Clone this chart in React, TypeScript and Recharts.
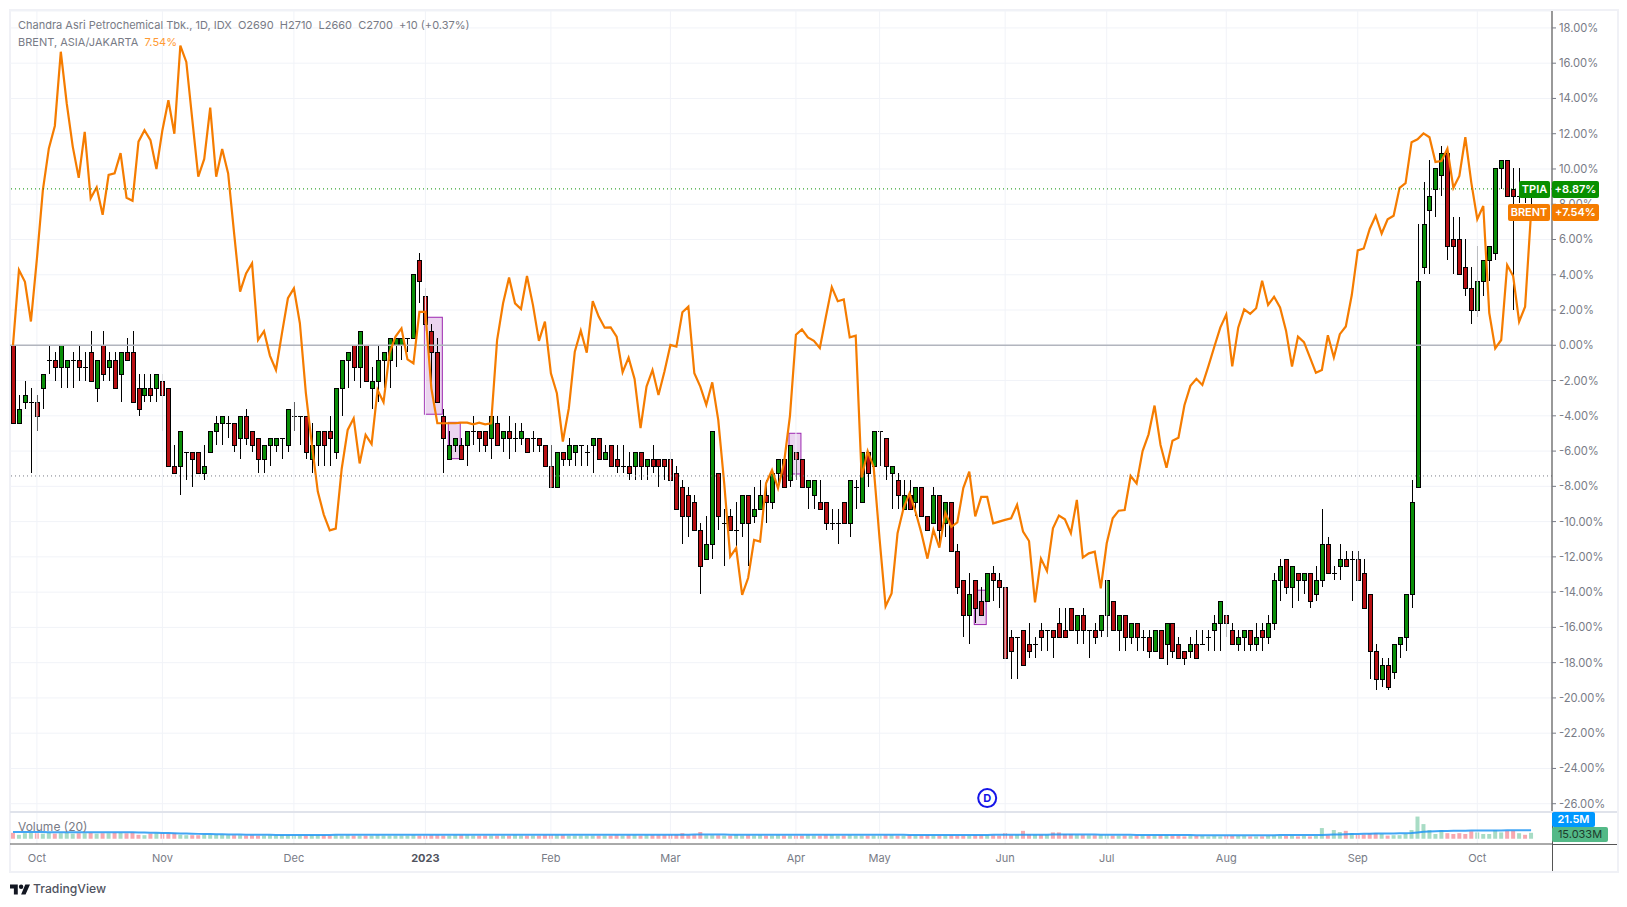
import { Bar, CartesianGrid, Cell, ComposedChart, Line, ReferenceArea, ReferenceDot, ReferenceLine, XAxis, YAxis } from 'recharts';

// TPIA daily prices. The percent scale is relative to the first open.
const basePrice = 2480;

const opens = [
  2480, 2370, 2400, 2400, 2400, 2420, 2460, 2460, 2450, 2450,
  2460, 2460, 2450, 2470, 2420, 2480, 2450, 2460, 2440, 2470,
  2470, 2420, 2410, 2420, 2420, 2430, 2420, 2310, 2310, 2330,
  2330, 2330, 2300, 2330, 2360, 2370, 2370, 2370, 2350, 2380,
  2360, 2350, 2320, 2340, 2340, 2350, 2340, 2380, 2380, 2380,
  2320, 2340, 2360, 2360, 2330, 2420, 2460, 2480, 2450, 2480,
  2420, 2430, 2460, 2460, 2480, 2480, 2490, 2490, 2600, 2550,
  2500, 2470, 2380, 2320, 2340, 2340, 2340, 2360, 2360, 2360,
  2350, 2370, 2350, 2360, 2350, 2350, 2350, 2350, 2350, 2340,
  2310, 2280, 2330, 2320, 2330, 2340, 2330, 2340, 2350, 2320,
  2340, 2320, 2310, 2310, 2310, 2330, 2310, 2320, 2320, 2320,
  2320, 2300, 2280, 2270, 2260, 2220, 2180, 2200, 2300, 2230,
  2240, 2220, 2230, 2270, 2240, 2250, 2270, 2260, 2300, 2320,
  2290, 2330, 2320, 2280, 2270, 2260, 2260, 2230, 2230, 2260,
  2230, 2280, 2260, 2330, 2310, 2360, 2350, 2300, 2290, 2250,
  2270, 2260, 2280, 2240, 2230, 2270, 2230, 2260, 2190, 2150,
  2100, 2150, 2120, 2120, 2160, 2150, 2140, 2070, 2070, 2080,
  2060, 2060, 2080, 2080, 2080, 2090, 2080, 2110, 2080, 2100,
  2080, 2080, 2080, 2100, 2120, 2080, 2100, 2070, 2090, 2070,
  2070, 2050, 2080, 2060, 2090, 2060, 2050, 2050, 2060, 2060,
  2070, 2080, 2090, 2100, 2080, 2060, 2070, 2080, 2060, 2080,
  2070, 2090, 2150, 2180, 2140, 2160, 2150, 2160, 2130, 2150,
  2200, 2160, 2170, 2180, 2180, 2180, 2160, 2130, 2050, 2010,
  2030, 2020, 2060, 2070, 2130, 2280, 2590, 2670, 2700, 2720,
  2750, 2630, 2630, 2590, 2560, 2530, 2570, 2600, 2610, 2730,
  2740, 2700, 2690, 2700, 2690,
];

const highs = [
  2490, 2410, 2430, 2420, 2410, 2440, 2480, 2470, 2480, 2460,
  2470, 2480, 2470, 2500, 2460, 2500, 2470, 2470, 2470, 2490,
  2500, 2440, 2440, 2440, 2440, 2440, 2420, 2340, 2360, 2330,
  2330, 2330, 2340, 2360, 2380, 2380, 2380, 2370, 2380, 2390,
  2360, 2350, 2340, 2350, 2350, 2350, 2390, 2400, 2380, 2380,
  2370, 2360, 2360, 2380, 2420, 2460, 2470, 2480, 2500, 2480,
  2450, 2480, 2470, 2490, 2490, 2490, 2490, 2580, 2610, 2560,
  2510, 2490, 2390, 2360, 2350, 2350, 2360, 2380, 2360, 2360,
  2380, 2380, 2360, 2380, 2370, 2370, 2350, 2360, 2350, 2340,
  2340, 2330, 2330, 2350, 2340, 2340, 2340, 2350, 2350, 2340,
  2340, 2340, 2340, 2330, 2330, 2330, 2320, 2340, 2320, 2320,
  2330, 2310, 2290, 2280, 2270, 2230, 2240, 2360, 2300, 2250,
  2250, 2260, 2270, 2270, 2280, 2290, 2290, 2300, 2320, 2320,
  2340, 2330, 2320, 2290, 2290, 2290, 2260, 2250, 2250, 2260,
  2290, 2290, 2330, 2330, 2360, 2360, 2350, 2310, 2300, 2290,
  2290, 2280, 2280, 2240, 2280, 2270, 2260, 2260, 2200, 2150,
  2160, 2150, 2140, 2160, 2170, 2160, 2140, 2080, 2070, 2080,
  2090, 2070, 2090, 2080, 2080, 2110, 2110, 2110, 2100, 2110,
  2080, 2090, 2100, 2150, 2120, 2100, 2100, 2090, 2090, 2080,
  2080, 2080, 2080, 2090, 2090, 2070, 2050, 2070, 2080, 2080,
  2080, 2100, 2120, 2100, 2090, 2080, 2080, 2080, 2090, 2090,
  2100, 2160, 2180, 2180, 2170, 2160, 2160, 2160, 2170, 2250,
  2210, 2170, 2200, 2190, 2190, 2190, 2180, 2130, 2060, 2040,
  2040, 2060, 2070, 2130, 2290, 2650, 2710, 2740, 2730, 2760,
  2750, 2660, 2660, 2630, 2590, 2620, 2600, 2620, 2730, 2740,
  2740, 2730, 2730, 2710, 2710,
];

const lows = [
  2370, 2370, 2390, 2300, 2360, 2390, 2440, 2430, 2420, 2420,
  2420, 2430, 2430, 2430, 2400, 2430, 2430, 2420, 2400, 2460,
  2400, 2380, 2400, 2400, 2400, 2360, 2310, 2300, 2270, 2290,
  2280, 2300, 2290, 2330, 2340, 2340, 2350, 2330, 2320, 2340,
  2330, 2300, 2300, 2310, 2330, 2320, 2330, 2360, 2340, 2320,
  2300, 2310, 2310, 2310, 2320, 2380, 2420, 2430, 2420, 2430,
  2390, 2400, 2420, 2420, 2450, 2460, 2470, 2490, 2540, 2500,
  2420, 2400, 2300, 2320, 2330, 2320, 2310, 2340, 2330, 2330,
  2320, 2340, 2330, 2320, 2330, 2340, 2330, 2330, 2330, 2310,
  2280, 2280, 2310, 2310, 2310, 2310, 2310, 2300, 2320, 2320,
  2310, 2300, 2300, 2290, 2290, 2290, 2290, 2300, 2280, 2290,
  2280, 2250, 2200, 2210, 2220, 2130, 2180, 2180, 2220, 2170,
  2220, 2190, 2210, 2170, 2230, 2250, 2230, 2250, 2280, 2280,
  2280, 2290, 2280, 2250, 2250, 2250, 2220, 2220, 2200, 2230,
  2210, 2250, 2260, 2280, 2310, 2310, 2290, 2250, 2250, 2250,
  2250, 2240, 2240, 2220, 2230, 2200, 2210, 2190, 2130, 2070,
  2060, 2090, 2100, 2120, 2120, 2110, 2040, 2010, 2010, 2030,
  2040, 2040, 2050, 2050, 2040, 2070, 2070, 2080, 2060, 2060,
  2040, 2060, 2070, 2070, 2080, 2050, 2050, 2060, 2050, 2050,
  2040, 2050, 2040, 2030, 2040, 2040, 2030, 2040, 2040, 2060,
  2050, 2050, 2050, 2070, 2060, 2050, 2050, 2050, 2050, 2050,
  2060, 2080, 2120, 2130, 2110, 2120, 2130, 2110, 2120, 2140,
  2160, 2150, 2150, 2170, 2120, 2150, 2110, 2010, 1995, 2000,
  1995, 2010, 2040, 2050, 2110, 2280, 2580, 2580, 2660, 2690,
  2600, 2580, 2580, 2550, 2510, 2520, 2550, 2570, 2600, 2700,
  2690, 2530, 2680, 2680, 2660,
];

const closes = [
  2370, 2390, 2410, 2400, 2380, 2440, 2460, 2450, 2480, 2460,
  2460, 2450, 2450, 2430, 2460, 2440, 2460, 2420, 2470, 2460,
  2400, 2390, 2420, 2410, 2440, 2410, 2310, 2300, 2360, 2330,
  2320, 2300, 2310, 2360, 2370, 2380, 2370, 2340, 2380, 2350,
  2340, 2320, 2340, 2350, 2350, 2350, 2390, 2380, 2380, 2330,
  2340, 2360, 2340, 2350, 2420, 2460, 2470, 2450, 2500, 2430,
  2430, 2460, 2470, 2490, 2490, 2490, 2490, 2580, 2570, 2510,
  2470, 2400, 2350, 2340, 2350, 2320, 2360, 2360, 2350, 2340,
  2380, 2340, 2360, 2350, 2350, 2360, 2330, 2350, 2340, 2310,
  2280, 2330, 2320, 2340, 2340, 2340, 2330, 2350, 2320, 2330,
  2310, 2310, 2310, 2300, 2330, 2310, 2320, 2310, 2310, 2310,
  2290, 2250, 2240, 2240, 2220, 2170, 2200, 2360, 2240, 2230,
  2220, 2220, 2270, 2230, 2250, 2270, 2260, 2300, 2320, 2280,
  2340, 2320, 2280, 2290, 2290, 2250, 2230, 2230, 2230, 2230,
  2290, 2280, 2330, 2300, 2360, 2360, 2310, 2310, 2270, 2270,
  2250, 2280, 2240, 2220, 2270, 2220, 2260, 2190, 2140, 2100,
  2130, 2110, 2100, 2160, 2150, 2140, 2040, 2050, 2070, 2030,
  2050, 2060, 2070, 2080, 2070, 2070, 2070, 2080, 2100, 2080,
  2080, 2070, 2100, 2150, 2080, 2100, 2070, 2090, 2070, 2070,
  2050, 2080, 2040, 2090, 2050, 2040, 2040, 2060, 2040, 2060,
  2070, 2090, 2120, 2090, 2060, 2070, 2080, 2060, 2070, 2070,
  2090, 2150, 2170, 2140, 2170, 2150, 2160, 2120, 2150, 2200,
  2160, 2160, 2180, 2170, 2180, 2150, 2110, 2050, 2010, 2030,
  2000, 2060, 2070, 2130, 2260, 2570, 2650, 2690, 2730, 2750,
  2620, 2620, 2580, 2560, 2530, 2570, 2600, 2620, 2730, 2740,
  2690, 2690, 2690, 2690, 2700,
];

// BRENT compare line, percent change
const brent = [
  0, 4.27, 3.6, 1.35, 4.9, 8.8, 11.17, 12.44, 16.65, 13.7,
  11.27, 9.5, 12.1, 8.34, 8.96, 7.4, 9.66, 9.75, 10.9, 8.37,
  8.2, 11.55, 12.2, 11.64, 10, 12.2, 13.9, 12, 17, 16.07,
  12.8, 9.56, 10.57, 13.48, 9.56, 11.13, 9.75, 6.35, 3.04, 4.08,
  4.65, 0.3, 0.8, -0.6, -1.4, 0.68, 2.67, 3.23, 1.25, -2.7,
  -5.6, -8.3, -9.6, -10.5, -10.4, -7, -4.8, -4.14, -6.7, -5.08,
  -5.6, -2.53, -3.23, -0.45, 0.5, 0.96, -0.8, -1.02, 1.9, 1.9,
  -2.44, -4.42, -4.42, -4.42, -4.42, -4.39, -4.39, -4.48, -4.39, -4.48,
  -4.42, 0.3, 2.38, 3.84, 2.38, 2.06, 3.93, 2.28, 0.25, 1.34,
  -1.59, -2.72, -5.46, -3.57, -0.36, 0.83, -0.42, 2.51, 1.63, 1,
  1.02, 0.49, -1.53, -0.7, -1.91, -4.7, -2.34, -1.4, -2.82, -1.49,
  0.02, -0.08, 1.87, 2.19, -1.59, -2.34, -3.38, -2.1, -4.23, -7.83,
  -11.98, -11.5, -14.15, -13.2, -11.04, -11.13, -7.83, -7.07, -8.1, -6.69,
  -4, 0.6, 0.9, 0.45, 0.25, -0.15, 1.6, 3.3, 2.5, 2.6,
  0.45, 0.55, -7.5, -6, -6.9, -11, -14.8, -14.07, -10.66, -9.24,
  -8.4, -9.43, -10.66, -12.1, -10.47, -11.47, -9.5, -10.3, -10.05, -8.1,
  -7.16, -9.7, -8.6, -8.6, -10.1, -10, -9.9, -9.81, -9.05, -10.57,
  -11.1, -14.58, -12.1, -12.8, -10.38, -9.66, -9.87, -10.66, -8.77, -12.04,
  -11.8, -11.7, -13.78, -11.23, -9.81, -9.38, -9.34, -7.41, -7.83, -6,
  -5.05, -3.42, -5.65, -6.94, -5.42, -5.24, -3.4, -2.3, -1.9, -2.25,
  -1.2, -0.08, 1, 1.74, -1.2, 1, 2.04, 1.78, 2.1, 3.66,
  2.29, 2.75, 2.15, 0.83, -1.2, 0.49, 0.18, -0.69, -1.56, -1.4,
  0.57, -0.69, 0.63, 1.07, 2.85, 5.38, 5.49, 6.6, 7.35, 6.34,
  7.15, 7.35, 8.93, 9.2, 11.52, 11.68, 12.02, 11.8, 10.4, 10.45,
  11.15, 8.93, 9.6, 11.8, 9.23, 7.15, 7.9, 1.84, -0.18, 0.3,
  4.55, 3.93, 1.34, 2.19, 7.54,
];

// Volume in millions, and its 20 day average
const volumes = [
  15, 10, 14, 15, 14, 13, 15, 13, 14, 15,
  13, 14, 14, 15, 13, 14, 14, 15, 15, 14,
  16, 10, 9, 13, 14, 14, 13, 14, 10, 9,
  9, 9, 10, 10, 10, 10, 9, 9, 9, 8,
  9, 8, 8, 9, 8, 9, 9, 8, 8, 8,
  9, 9, 9, 8, 9, 8, 9, 8, 8, 8,
  8, 9, 8, 8, 8, 8, 8, 9, 8, 8,
  9, 9, 8, 8, 9, 9, 9, 8, 8, 8,
  8, 8, 8, 8, 9, 8, 8, 8, 8, 9,
  9, 9, 9, 8, 8, 8, 8, 8, 8, 8,
  8, 9, 8, 9, 9, 8, 9, 9, 9, 9,
  10, 10, 14, 9, 10, 17, 9, 9, 9, 8,
  8, 10, 8, 9, 8, 9, 8, 8, 9, 8,
  8, 8, 8, 9, 8, 8, 9, 9, 8, 8,
  9, 8, 8, 8, 8, 8, 9, 9, 8, 8,
  9, 8, 8, 9, 8, 8, 8, 9, 8, 8,
  8, 9, 9, 9, 9, 8, 14, 9, 10, 20,
  11, 10, 10, 10, 16, 16, 12, 12, 10, 10,
  9, 9, 9, 9, 8, 8, 8, 8, 8, 8,
  8, 8, 9, 9, 8, 8, 6, 8, 7, 7,
  6, 7, 6, 7, 7, 7, 7, 6, 6, 6,
  7, 8, 7, 7, 8, 6, 7, 6, 7, 27,
  9, 22, 17, 20, 14, 10, 11, 14, 14, 12,
  8, 9, 9, 12, 22, 56, 37, 22, 12, 22,
  14, 12, 14, 12, 19, 16, 12, 12, 22, 16,
  20, 20, 14, 10, 15,
];

const volumeAvg = [
  17, 17, 16.9, 16.9, 16.8, 16.8, 16.7, 16.7, 16.7, 16.6,
  16.6, 16.6, 16.5, 16.5, 16.5, 16.4, 16.4, 16.4, 16.3, 16.3,
  16.2, 16, 15.7, 15.4, 15, 14.6, 14.2, 13.8, 13.4, 13,
  12.6, 12.3, 12, 11.7, 11.4, 11.1, 10.9, 10.7, 10.5, 10.3,
  10.1, 10, 9.9, 9.8, 9.7, 9.6, 9.6, 9.5, 9.5, 9.5,
  9.6, 9.6, 9.7, 9.7, 9.8, 9.8, 9.9, 9.9, 10, 10,
  10, 10, 10, 10, 10, 10, 10, 10, 10, 10,
  10, 10, 10, 10, 10, 10, 10, 10, 10, 10,
  10, 10, 10, 10, 10, 10, 10, 10, 10, 10,
  10, 10, 10, 10, 10, 10, 10, 10, 10, 10,
  10, 10, 10, 10, 10, 10, 10, 10, 10, 10,
  10.2, 10.2, 10.4, 10.4, 10.5, 10.6, 10.6, 10.6, 10.5, 10.5,
  10.4, 10.4, 10.3, 10.3, 10.2, 10.2, 10.1, 10.1, 10, 10,
  10, 10, 10, 10, 10, 9.9, 9.9, 9.9, 9.9, 9.9,
  9.8, 9.8, 9.8, 9.8, 9.8, 9.8, 9.8, 9.8, 9.8, 9.8,
  9.7, 9.7, 9.7, 9.7, 9.7, 9.7, 9.7, 9.7, 9.7, 9.7,
  9.7, 9.7, 9.7, 9.7, 9.8, 9.8, 9.9, 9.9, 10, 10.2,
  10.3, 10.3, 10.4, 10.4, 10.6, 10.8, 10.8, 10.8, 10.7, 10.7,
  10.6, 10.5, 10.4, 10.3, 10.1, 10, 9.9, 9.8, 9.7, 9.6,
  9.5, 9.4, 9.4, 9.3, 9.3, 9.2, 9.2, 9.2, 9.1, 9.1,
  9.1, 9.1, 9.1, 9.1, 9.1, 9.1, 9.1, 9.1, 9.1, 9.1,
  9.1, 9.1, 9.2, 9.2, 9.2, 9.2, 9.2, 9.2, 9.2, 9.5,
  10, 10.6, 11, 11.5, 12, 12.2, 12.4, 12.7, 13, 13.2,
  13.4, 13.5, 13.6, 13.8, 14.5, 16, 17.5, 18.5, 19, 19.5,
  19.8, 20, 20.2, 20.4, 20.6, 20.7, 20.8, 20.9, 21, 21.1,
  21.2, 21.3, 21.4, 21.4, 21.5,
];

const monthTicks = [4, 25, 47, 69, 90, 110, 131, 145, 166, 183, 203, 225, 245];
const monthLabels = ['Oct', 'Nov', 'Dec', '2023', 'Feb', 'Mar', 'Apr', 'May', 'Jun', 'Jul', 'Aug', 'Sep', 'Oct'];
const percentTicks = [-26, -24, -22, -20, -18, -16, -14, -12, -10, -8, -6, -4, -2, 0, 2, 4, 6, 8, 10, 12, 14, 16, 18];

// pattern boxes: first bar, last bar, top %, bottom %
const patternBoxes = [
  [69, 71, 1.59, -3.91],
  [73, 74, -4.37, -6.43],
  [130, 131, -4.99, -7.3],
  [161, 162, -13.89, -15.84],
];

const toPercent = (price: number) => (price / basePrice - 1) * 100;

// three empty slots on the right of the last bar
const rows = Array.from({ length: opens.length + 3 }, (_, i) => {
  if (i >= opens.length) return { i };
  return {
    i,
    open: toPercent(opens[i]),
    high: toPercent(highs[i]),
    low: toPercent(lows[i]),
    close: toPercent(closes[i]),
    range: [toPercent(lows[i]), toPercent(highs[i])],
    brent: brent[i],
    volume: volumes[i],
    volumeAvg: volumeAvg[i],
    up: closes[i] >= opens[i],
  };
});

const FONT = 'Inter, "Open Sans", sans-serif';
const GRID = '#f1f3f8';
const TEXT = '#787b86';

function Candle(props: any) {
  const { x, width, y, height, payload } = props;
  if (!payload || payload.open === undefined) return null;
  const cx = Math.round(x + width / 2) + 0.5;
  const perUnit = height / (payload.high - payload.low);
  const openY = y + (payload.high - payload.open) * perUnit;
  const closeY = y + (payload.high - payload.close) * perUnit;
  const top = Math.round(Math.min(openY, closeY)) + 0.5;
  const bottom = Math.round(Math.max(openY, closeY)) + 0.5;
  const flat = bottom - top < 1;
  return (
    <g>
      <line x1={cx} x2={cx} y1={Math.round(y)} y2={Math.round(y + height)} stroke="#000" strokeWidth={1} />
      {flat ? (
        <line x1={cx - 2.5} x2={cx + 2.5} y1={top} y2={top} stroke="#000" strokeWidth={1} />
      ) : (
        <rect x={cx - 2} y={top} width={4} height={bottom - top} fill={payload.up ? '#0a8f08' : '#b80f13'} stroke="#000" strokeWidth={1} />
      )}
    </g>
  );
}

// nudged 2px right so the box sits on the candle centres
function PatternBox(props: any) {
  const { x, y, width, height } = props;
  return <rect x={x + 2} y={y} width={width} height={height} fill="#9c27b0" fillOpacity={0.2} stroke="#9c27b0" strokeWidth={1} />;
}

function MonthTick(props: any) {
  const { x, y, payload } = props;
  const label = monthLabels[monthTicks.indexOf(payload.value)];
  const bold = label === '2023';
  return (
    <text x={x} y={y + 10} textAnchor="middle" fontFamily={FONT} fontSize={11} fontWeight={bold ? 700 : 400} fill={bold ? '#50535e' : TEXT}>
      {label}
    </text>
  );
}

function Tag({ left, top, width, height, bg, color, children, bold = true }: any) {
  return (
    <div
      style={{
        position: 'absolute', left, top, width, height, background: bg, color, borderRadius: 2,
        fontFamily: FONT, fontSize: 11, fontWeight: bold ? 600 : 400, lineHeight: `${height}px`, textAlign: 'center',
      }}
    >
      {children}
    </div>
  );
}

export default function App() {
  return (
    <div style={{ position: 'absolute', left: 0, top: 0, width: 1627, height: 907, background: '#fff', overflow: 'hidden' }}>
      <div style={{ position: 'absolute', left: 9, top: 9, width: 1606, height: 860, border: '2px solid #f0f1f6' }} />

      <div style={{ position: 'absolute', left: 0, top: 0 }}>
        <ComposedChart width={1627} height={812} data={rows} margin={{ top: 11, right: 0, bottom: 0, left: 10 }} barCategoryGap={0}>
          <CartesianGrid vertical={false} stroke={GRID} />
          <XAxis dataKey="i" hide />
          <YAxis
            orientation="right"
            width={75}
            domain={[-26.47, 18.96]}
            ticks={percentTicks}
            interval={0}
            tickFormatter={(v: number) => `${v.toFixed(2)}%`}
            tick={{ fill: TEXT, fontSize: 11.2, fontFamily: FONT }}
            tickSize={4}
            tickMargin={3}
            tickLine={{ stroke: TEXT }}
            axisLine={{ stroke: '#555', strokeWidth: 1.2 }}
          />
          {monthTicks.map((t) => (
            <ReferenceLine key={t} x={t} stroke={GRID} />
          ))}
          {patternBoxes.map((b) => (
            <ReferenceArea key={b[0]} x1={b[0]} x2={b[1]} y1={b[2]} y2={b[3]} shape={PatternBox} />
          ))}
          <ReferenceLine y={0} stroke="#b2b5be" strokeWidth={1.5} />
          <Line dataKey="brent" stroke="#f57c00" strokeWidth={2.2} dot={false} isAnimationActive={false} />
          <ReferenceLine y={8.87} stroke="#089000" strokeDasharray="1 3" />
          <ReferenceLine y={-7.41} stroke="#787b86" strokeDasharray="1 3" />
          <Bar dataKey="range" shape={Candle} isAnimationActive={false} />
          <ReferenceDot
            x={163}
            y={-25.68}
            r={9}
            fill="#fff"
            stroke="#1515e8"
            strokeWidth={2}
            label={{ value: 'D', position: 'center', fill: '#1515e8', fontSize: 11, fontWeight: 700, fontFamily: FONT }}
          />
        </ComposedChart>
      </div>

      <div style={{ position: 'absolute', left: 0, top: 811 }}>
        <ComposedChart width={1627} height={60} data={rows} margin={{ top: 1, right: 75, bottom: 0, left: 10 }} barCategoryGap="16%">
          <XAxis
            dataKey="i"
            height={27}
            ticks={monthTicks}
            interval={0}
            tick={MonthTick}
            tickLine={false}
            axisLine={{ stroke: '#555', strokeWidth: 1 }}
          />
          <YAxis hide domain={[-13.25, 67.5]} />
          {monthTicks.map((t) => (
            <ReferenceLine key={t} x={t} stroke={GRID} />
          ))}
          <Bar dataKey="volume" isAnimationActive={false}>
            {rows.map((r: any) => (
              <Cell key={r.i} fill={r.up ? '#a8dcc5' : '#f7a8b0'} />
            ))}
          </Bar>
          <Line dataKey="volumeAvg" stroke="#2196f3" strokeOpacity={0.85} strokeWidth={2} dot={false} isAnimationActive={false} />
        </ComposedChart>
      </div>

      <div style={{ position: 'absolute', left: 1551.5, top: 811, width: 1.2, height: 60, background: '#555' }} />
      <div style={{ position: 'absolute', left: 1552, top: 844, width: 65, height: 1, background: '#555' }} />
      <div style={{ position: 'absolute', left: 10, top: 811, width: 1607, height: 1.5, background: '#e0e3eb' }} />

      <div style={{ position: 'absolute', left: 18, top: 17, fontFamily: FONT, fontSize: 11, color: TEXT, whiteSpace: 'pre', lineHeight: '16px' }}>
        {'Chandra Asri Petrochemical Tbk., 1D, IDX  O2690  H2710  L2660  C2700  +10 (+0.37%)'}
      </div>
      <div style={{ position: 'absolute', left: 18, top: 34, fontFamily: FONT, fontSize: 11, color: TEXT, whiteSpace: 'pre', lineHeight: '16px' }}>
        {'BRENT, ASIA/JAKARTA  '}
        <span style={{ color: '#ff9a33' }}>7.54%</span>
      </div>
      <div style={{ position: 'absolute', left: 18, top: 819, fontFamily: FONT, fontSize: 12, color: TEXT, lineHeight: '16px' }}>Volume (20)</div>

      <Tag left={1519} top={181} width={31} height={17} bg="#089000" color="#fff">TPIA</Tag>
      <Tag left={1552} top={181} width={47} height={17} bg="#089000" color="#fff">+8.87%</Tag>
      <Tag left={1508} top={204} width={42} height={17} bg="#f57c00" color="#fff">BRENT</Tag>
      <Tag left={1552} top={204} width={47} height={17} bg="#f57c00" color="#fff">+7.54%</Tag>
      <Tag left={1552} top={812} width={43} height={15} bg="#0098ff" color="#fff">21.5M</Tag>
      <Tag left={1552} top={827} width={56} height={15} bg="#53b987" color="#1d3b2c" bold={false}>15.033M</Tag>

      <svg style={{ position: 'absolute', left: 10, top: 883 }} width={20} height={12} viewBox="0 0 36 20">
        <path d="M14 20H7V9H0V2h14v18zM28 20h-8l7.5-18H36L28 20z" fill="#131722" />
        <circle cx="20" cy="6" r="4" fill="#131722" />
      </svg>
      <div style={{ position: 'absolute', left: 33, top: 881, fontFamily: FONT, fontSize: 12.2, fontWeight: 500, color: '#50535e', lineHeight: '16px' }}>TradingView</div>
    </div>
  );
}
